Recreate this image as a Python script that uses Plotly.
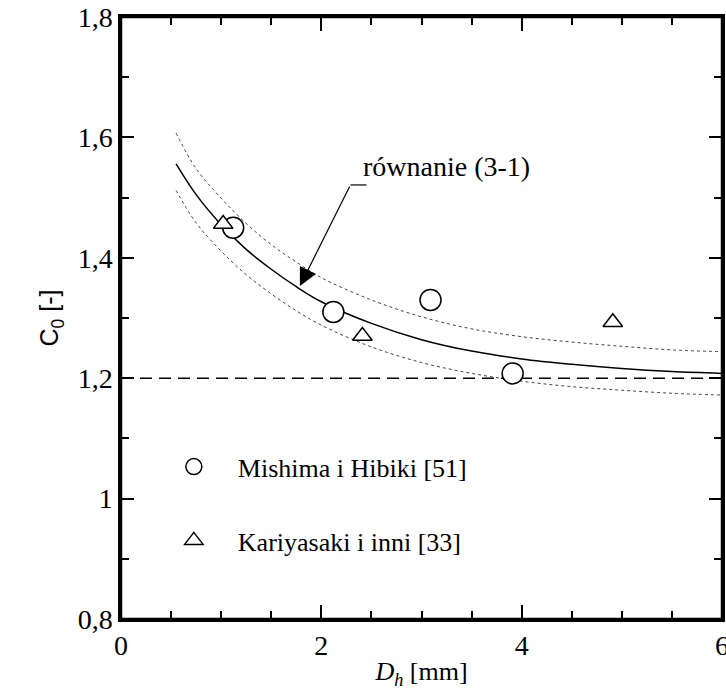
import plotly.graph_objects as go

# --- data ---
mishima_x = [1.12, 2.12, 3.09, 3.91]
mishima_y = [1.450, 1.310, 1.330, 1.208]

kariyasaki_x = [1.02, 2.41, 4.91]
kariyasaki_y = [1.456, 1.270, 1.293]

curve_x = [0.55, 0.75, 1.0, 1.25, 1.5, 1.75, 2.0, 2.5, 3.0, 3.5, 4.0, 4.5, 5.0, 5.5, 6.0]
curve_y = [1.556, 1.505, 1.455, 1.414, 1.381, 1.352, 1.327, 1.291, 1.264, 1.245, 1.232, 1.223, 1.216, 1.211, 1.208]
upper_y = [1.607, 1.548, 1.499, 1.457, 1.422, 1.393, 1.367, 1.330, 1.302, 1.282, 1.269, 1.260, 1.253, 1.247, 1.244]
lower_y = [1.512, 1.458, 1.411, 1.372, 1.340, 1.312, 1.288, 1.252, 1.226, 1.208, 1.195, 1.186, 1.180, 1.175, 1.172]

ref_x = [0, 6]
ref_y = [1.2, 1.2]

x_ticks = [0, 2, 4, 6]
y_ticks = [0.8, 1.0, 1.2, 1.4, 1.6, 1.8]

label_text = "równanie (3-1)"
arrow_tip = (1.786, 1.353)
arrow_tail = (2.29, 1.521)
label_pos = (2.40, 1.551)

serif = "Liberation Serif"

fig = go.Figure()

fig.add_trace(go.Scatter(x=curve_x, y=upper_y, mode="lines", line=dict(color="#444", width=1, dash="dot", shape="spline"),
                         showlegend=False, hoverinfo="skip"))
fig.add_trace(go.Scatter(x=curve_x, y=lower_y, mode="lines", line=dict(color="#444", width=1, dash="dot", shape="spline"),
                         showlegend=False, hoverinfo="skip"))
fig.add_trace(go.Scatter(x=ref_x, y=ref_y, mode="lines", line=dict(color="black", width=1.5, dash="12px,7px"),
                         showlegend=False, hoverinfo="skip"))
fig.add_trace(go.Scatter(x=curve_x, y=curve_y, mode="lines", line=dict(color="black", width=1.5, shape="spline"),
                         showlegend=False, hoverinfo="skip"))

fig.add_trace(go.Scatter(x=mishima_x, y=mishima_y, mode="markers", name="Mishima i Hibiki [51]",
                         legendgroup="a",
                         marker=dict(symbol="circle", size=21, color="white", line=dict(color="black", width=1.5))))
fig.add_trace(go.Scatter(x=kariyasaki_x, y=kariyasaki_y, mode="markers", name="Kariyasaki i inni [33]",
                         legendgroup="b",
                         marker=dict(symbol="triangle-up", size=17, color="white", line=dict(color="black", width=1.5))))

fig.add_annotation(x=arrow_tip[0], y=arrow_tip[1], ax=arrow_tail[0], ay=arrow_tail[1],
                   xref="x", yref="y", axref="x", ayref="y", text="", showarrow=True,
                   arrowhead=2, arrowsize=3, arrowwidth=1.2, arrowcolor="black")
fig.add_shape(type="line", x0=arrow_tail[0], y0=arrow_tail[1], x1=label_pos[0] + 0.05, y1=arrow_tail[1],
              xref="x", yref="y", line=dict(color="black", width=1.2))
fig.add_annotation(x=label_pos[0], y=label_pos[1], xref="x", yref="y", text=label_text, showarrow=False,
                   xanchor="left", yanchor="middle", font=dict(family=serif, size=28, color="black"))

# plot frame
fig.add_shape(type="rect", xref="paper", yref="paper", x0=0, y0=0, x1=1, y1=1,
              line=dict(color="black", width=2.5), layer="above")

axis_common = dict(showline=True, linecolor="black", linewidth=2.5, mirror="allticks", ticks="inside",
                   tickcolor="black", tickwidth=2, showgrid=False, zeroline=False, automargin=False,
                   ticklabeloverflow="allow",
                   tickfont=dict(family=serif, size=28, color="black"))

fig.update_xaxes(range=[0, 6], tickvals=x_ticks, ticklen=14,
                 minor=dict(dtick=0.5, ticklen=8, tickwidth=2, tickcolor="black", ticks="inside", showgrid=False),
                 title=dict(text="<i>D<sub>h</sub></i> [mm]", font=dict(family=serif, size=26, color="black"), standoff=2),
                 **axis_common)
fig.update_yaxes(range=[0.8, 1.8], tickvals=y_ticks, ticklen=13,
                 minor=dict(dtick=0.1, ticklen=8, tickwidth=2, tickcolor="black", ticks="inside", showgrid=False),
                 title=dict(text="C<sub>0</sub> [-]", font=dict(family="Liberation Sans", size=25, color="black"), standoff=12),
                 **axis_common)

fig.update_layout(
    width=726, height=695,
    margin=dict(l=121, r=4, t=17, b=76),
    plot_bgcolor="white", paper_bgcolor="white",
    separators=", ",
    legend=dict(x=0.048, y=0.292, xanchor="left", yanchor="top", bgcolor="rgba(0,0,0,0)",
                font=dict(family=serif, size=26, color="black"), tracegroupgap=37, itemwidth=78,
                traceorder="grouped"),
)

fig.write_html("out.html", config={"displayModeBar": False},
               post_script="document.body.style.margin='0';document.body.style.overflow='hidden';")
